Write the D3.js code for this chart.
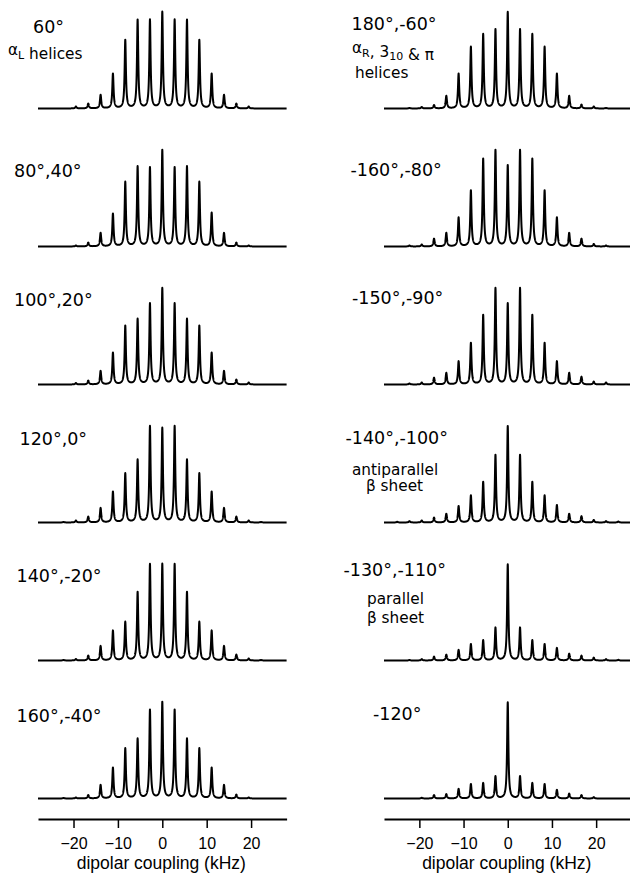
<!DOCTYPE html>
<html>
<head>
<meta charset="utf-8">
<script src="https://cdn.jsdelivr.net/npm/d3@7"></script>
<style>
  body { margin: 0; background: #fff; }
  text { font-family: "Liberation Sans", Arial, Helvetica, sans-serif; fill: #000; }
  .title, .note { font-family: "DejaVu Sans", "Liberation Sans", sans-serif; }
</style>
</head>
<body>
<div id="wrapper"></div>
<script>
// sideband orders and spinning rate (kHz)
const orders = d3.range(-9, 10)
const spinRate = 2.78
const tickValues = [-20, -10, 0, 10, 20]
const axisTitle = "dipolar coupling (kHz)"

// sideband intensities, orders -9..9, tallest = 100
const phi60 = [0, 0, 2, 5, 14, 36, 71, 92, 92, 100, 92, 92, 71, 36, 14, 5, 2, 0, 0]
const phi80 = [0, 0, 1, 4, 14, 34, 67, 83, 82, 100, 82, 83, 67, 35, 14, 4, 1, 0, 0]
const phi100 = [0, 0, 1.5, 4, 14, 33, 61, 68, 84, 100, 84, 68, 61, 33, 14, 5, 2, 0, 0]
const phi120 = [0, 0.5, 2, 6, 15, 32, 51, 65, 100, 98, 100, 65, 51, 32, 15, 6, 2, 0.5, 0]
const phi140 = [0, 0.5, 1.5, 5, 15, 31, 40, 71, 100, 100, 100, 71, 40, 31, 15, 6, 2, 0.5, 0]
const phi160 = [0, 0.5, 1, 3.5, 14, 32, 52, 62, 92, 100, 92, 62, 52, 32, 14, 4, 1, 0, 0]
const phi180 = [0, 0.5, 1.5, 3.5, 13, 36, 64, 77, 82, 100, 82, 77, 64, 36, 13, 4, 2, 0.5, 0]
const phiM160 = [0, 1, 2, 8, 14, 30, 58, 91, 100, 84, 100, 91, 58, 30, 14, 8, 2.5, 1, 0]
const phiM150 = [0, 1, 2, 7, 12, 24, 43, 72, 100, 84, 100, 72, 43, 24, 12, 8, 3, 2, 0]
const phiM140 = [0.7, 1.4, 2, 5, 9, 17, 28, 42, 70, 100, 70, 42, 28, 18, 9, 6.5, 2.5, 1.4, 1]
const phiM130 = [0, 0.5, 1.4, 4, 6, 11, 17, 21, 34, 100, 34, 21, 17, 13, 7, 5, 3, 1.4, 0.7]
const phiM120 = [0, 0, 0.7, 3.5, 4.5, 10, 15, 16, 23, 100, 23, 16, 15, 9, 5, 3.5, 1.4, 0, 0]

const leftTitles = ["60°", "80°,40°", "100°,20°", "120°,0°", "140°,-20°", "160°,-40°"]
const rightTitles = ["180°,-60°", "-160°,-80°", "-150°,-90°", "-140°,-100°", "-130°,-110°", "-120°"]

const leftSpectra = [phi60, phi80, phi100, phi120, phi140, phi160]
const rightSpectra = [phi180, phiM160, phiM150, phiM140, phiM130, phiM120]

// layout
const dimensions = {
    width: 630,
    height: 875,
    firstBaseline: 108.5,
    rowStep: 138,
    peakHeight: 96,
    axisY: 819,
}
const lineWidth = 0.17 // lorentzian half width (kHz)

const wrapper = d3.select("#wrapper")
    .append("svg")
    .attr("width", dimensions.width)
    .attr("height", dimensions.height)

const xLeft = d3.scaleLinear().domain([-28, 28]).range([38, 286.6])
const xRight = d3.scaleLinear().domain([-28, 28]).range([384, 631.5])

// sample points, aligned so every sideband lands on a sample
const step = spinRate / 139
const samples = d3.range(Math.ceil(-28 / step), Math.floor(28 / step) + 1).map(k => k * step)

function spectrum (values) {
    return samples.map(f => {
        let s = 0
        values.forEach((v, i) => {
            const d = f - orders[i] * spinRate
            s += v * lineWidth * lineWidth / (lineWidth * lineWidth + d * d)
        })
        return [f, s]
    })
}

function drawColumn (x, spectra) {
    spectra.forEach((values, row) => {
        const base = dimensions.firstBaseline + row * dimensions.rowStep
        const y = d3.scaleLinear().domain([0, 100]).range([base, base - dimensions.peakHeight])
        const line = d3.line().x(d => x(d[0])).y(d => y(d[1]))
        wrapper.append("path")
            .datum(spectrum(values))
            .attr("d", line)
            .attr("fill", "none")
            .attr("stroke", "#000")
            .attr("stroke-width", 2)
            .attr("stroke-linejoin", "round")
    })

    const axis = wrapper.append("g")
        .attr("transform", `translate(0, ${dimensions.axisY})`)
        .call(d3.axisBottom(x).tickValues(tickValues).tickSize(9).tickSizeOuter(0).tickPadding(10))
    axis.attr("font-family", null).attr("font-size", 16)
    axis.select(".domain").attr("stroke-width", 1.8)
    axis.selectAll(".tick line").attr("stroke-width", 1.5)

    wrapper.append("text")
        .attr("x", x(0) - 1)
        .attr("y", 869)
        .attr("text-anchor", "middle")
        .attr("font-size", 17.5)
        .text(axisTitle)
}

drawColumn(xLeft, leftSpectra)
drawColumn(xRight, rightSpectra)

// panel titles
const leftTitleX = [33, 14, 14, 19.5, 16.5, 16.5]
const leftTitleDy = [-75.5, -70, -78.5, -77.5, -78.5, -76.5]
const rightTitleX = [351.5, 350.5, 352, 345.5, 343.5, 373]
const rightTitleDy = [-78.5, -71, -81, -79, -84.5, -78.5]

leftTitles.forEach((t, i) => {
    wrapper.append("text")
        .attr("class", "title")
        .attr("x", leftTitleX[i])
        .attr("y", dimensions.firstBaseline + i * dimensions.rowStep + leftTitleDy[i])
        .attr("font-size", 17.5)
        .text(t)
})
rightTitles.forEach((t, i) => {
    wrapper.append("text")
        .attr("class", "title")
        .attr("x", rightTitleX[i])
        .attr("y", dimensions.firstBaseline + i * dimensions.rowStep + rightTitleDy[i])
        .attr("font-size", 17.5)
        .text(t)
})

// secondary structure notes
function note (x, y, parts) {
    const t = wrapper.append("text").attr("class", "note").attr("x", x).attr("y", y).attr("font-size", 15.3)
    parts.forEach(p => {
        if (p.sub) {
            t.append("tspan").attr("font-size", 11).attr("dy", 3.5).text(p.sub)
            t.append("tspan").attr("dy", -3.5).text("")
        } else {
            t.append("tspan").text(p.t)
        }
    })
}
note(8, 55, [{ t: "α" }, { sub: "L" }, { t: " helices" }])
note(352, 53, [{ t: "α" }, { sub: "R" }, { t: ", 3" }, { sub: "10" }, { t: " & π" }])
note(355, 77.5, [{ t: "helices" }])
note(352, 474.5, [{ t: "antiparallel" }])
note(366, 491, [{ t: "β sheet" }])
note(367, 604, [{ t: "parallel" }])
note(367, 622.5, [{ t: "β sheet" }])
</script>
</body>
</html>
